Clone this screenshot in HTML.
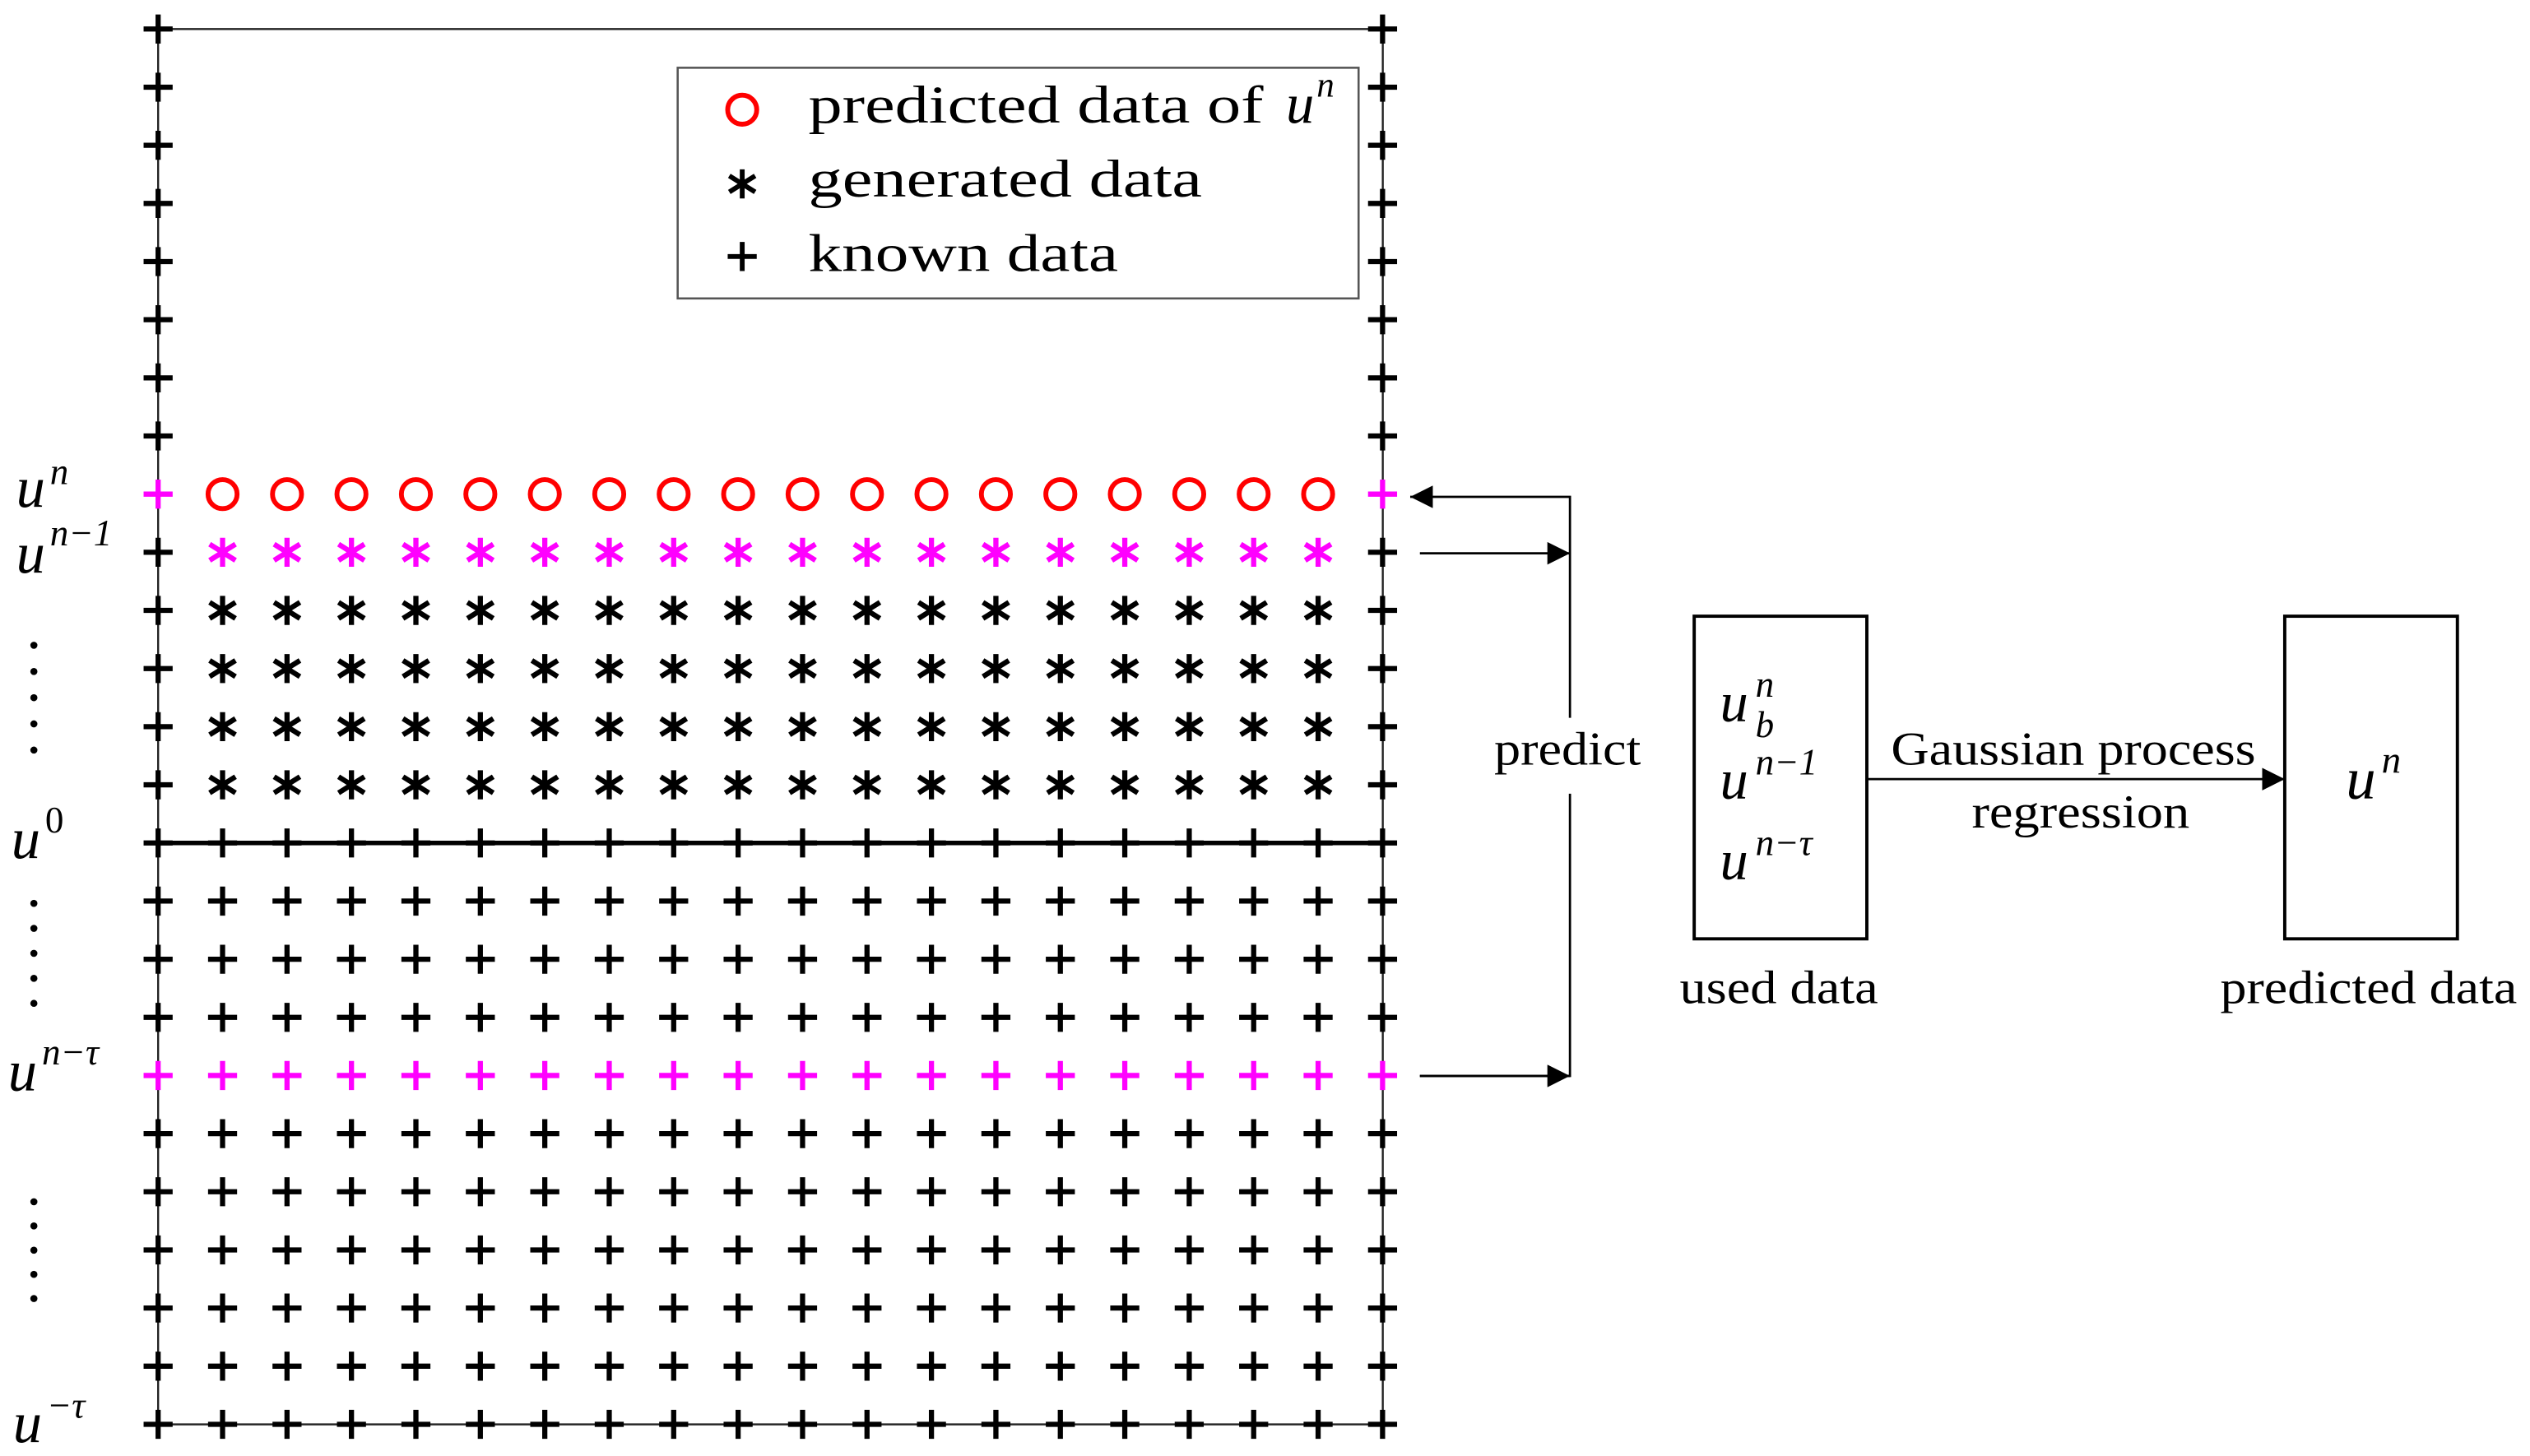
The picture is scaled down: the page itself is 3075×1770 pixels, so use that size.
<!DOCTYPE html>
<html><head><meta charset="utf-8"><style>
html,body{margin:0;padding:0;background:#fff;}
svg{display:block;}
text{font-family:"Liberation Serif",serif;fill:#000;}
.it{font-style:italic;}
</style></head><body>
<svg id="s" width="3075" height="1770" viewBox="0 0 1568 902.6" preserveAspectRatio="none" xmlns="http://www.w3.org/2000/svg">
<defs>
<marker id="ah" viewBox="0 0 10 10" refX="10" refY="5" markerWidth="14" markerHeight="14" markerUnits="userSpaceOnUse" orient="auto"><path d="M0,0 L10,5 L0,10 z" fill="#000"/></marker>
</defs>
<g id="grid"></g>
<rect x="420" y="42" width="422" height="143" fill="#fff" stroke="#555" stroke-width="1.3"/>
<circle cx="460" cy="68" r="9" fill="none" stroke="#f00" stroke-width="3"/>
<g stroke="#000" stroke-width="3">
<line x1="460" y1="105" x2="460" y2="123"/><line x1="452" y1="109" x2="468" y2="119"/><line x1="452" y1="119" x2="468" y2="109"/>
<line x1="451" y1="159" x2="469" y2="159"/><line x1="460" y1="150" x2="460" y2="168"/>
</g>
<text x="501" y="76" font-size="33" textLength="282" lengthAdjust="spacingAndGlyphs">predicted data of</text>
<text x="797" y="76" font-size="35" class="it">u</text><text x="816" y="60" font-size="22" class="it">n</text>
<text x="501" y="122" font-size="33" textLength="244" lengthAdjust="spacingAndGlyphs">generated data</text>
<text x="501" y="168" font-size="33" textLength="192" lengthAdjust="spacingAndGlyphs">known data</text>
<text x="10" y="314" font-size="36" class="it">u</text><text x="31" y="300" font-size="23" class="it">n</text>
<text x="10" y="355" font-size="36" class="it">u</text><text x="31" y="338" font-size="23" class="it">n−1</text>
<text x="7" y="532" font-size="36" class="it">u</text><text x="28" y="516" font-size="23">0</text>
<text x="5" y="676" font-size="36" class="it">u</text><text x="26" y="660" font-size="23" class="it">n−τ</text>
<text x="8" y="894" font-size="36" class="it">u</text><text x="29" y="879" font-size="23" class="it">−τ</text>
<g fill="#000" id="dots"></g>
<g stroke="#000" stroke-width="1.4" fill="none">
<polyline points="973,445 973,308 874,308" marker-end="url(#ah)"/>
<line x1="880" y1="343" x2="973" y2="343" marker-end="url(#ah)"/>
<polyline points="973,492 973,667 880,667" />
<line x1="880" y1="667" x2="973" y2="667" marker-end="url(#ah)"/>
<line x1="1157" y1="483" x2="1416" y2="483" marker-end="url(#ah)"/>
<rect x="1050" y="382" width="107" height="200" stroke-width="2"/>
<rect x="1416" y="382" width="107" height="200" stroke-width="2"/>
</g>
<text x="926" y="474" font-size="29" textLength="91" lengthAdjust="spacingAndGlyphs">predict</text>
<text x="1066" y="447" font-size="35" class="it">u</text><text x="1088" y="432" font-size="23" class="it">n</text><text x="1088" y="457" font-size="23" class="it">b</text>
<text x="1066" y="495" font-size="35" class="it">u</text><text x="1088" y="480" font-size="23" class="it">n−1</text>
<text x="1066" y="545" font-size="35" class="it">u</text><text x="1088" y="530" font-size="23" class="it">n−τ</text>
<text x="1172" y="474" font-size="29" textLength="226" lengthAdjust="spacingAndGlyphs">Gaussian process</text>
<text x="1222" y="513" font-size="29" textLength="135" lengthAdjust="spacingAndGlyphs">regression</text>
<text x="1454" y="495" font-size="37" class="it">u</text><text x="1476" y="479" font-size="24" class="it">n</text>
<text x="1041" y="622" font-size="29" textLength="123" lengthAdjust="spacingAndGlyphs">used data</text>
<text x="1376" y="622" font-size="29" textLength="184" lengthAdjust="spacingAndGlyphs">predicted data</text>
</svg>
<script>
var NS="http://www.w3.org/2000/svg",g=document.getElementById("grid");
function el(t,a){var e=document.createElementNS(NS,t);for(var k in a)e.setAttribute(k,a[k]);g.appendChild(e);return e;}
function Y(k){return 18+36.04*k;}
function X(i){return 98+39.94*i;}
el("line",{x1:98,y1:18,x2:857,y2:18,stroke:"#222","stroke-width":1.2});
el("line",{x1:98,y1:883,x2:857,y2:883,stroke:"#222","stroke-width":1.2});
el("line",{x1:98,y1:18,x2:98,y2:883,stroke:"#222","stroke-width":1.2});
el("line",{x1:857,y1:18,x2:857,y2:883,stroke:"#222","stroke-width":1.2});
el("line",{x1:98,y1:Y(14),x2:857,y2:Y(14),stroke:"#000","stroke-width":2.8});
function plus(x,y,c){el("path",{d:"M"+(x-9)+","+y+"h18M"+x+","+(y-9)+"v18",stroke:c,"stroke-width":3.2,fill:"none"});}
function star(x,y,c){el("path",{d:"M"+x+","+(y-9)+"v18M"+(x-8)+","+(y-5)+"l16,10M"+(x-8)+","+(y+5)+"l16,-10",stroke:c,"stroke-width":3.2,fill:"none"});}
function circ(x,y){el("circle",{cx:x,cy:y,r:9,fill:"none",stroke:"#f00","stroke-width":3});}
for(var k=0;k<25;k++){
 var y=Y(k);
 for(var i=0;i<20;i++){
  var x=X(i),edge=(i==0||i==19);
  if(k<8){ if(edge) plus(x,y,"#000"); }
  else if(k==8){ if(edge) plus(x,y,"#f0f"); else circ(x,y); }
  else if(k==9){ if(edge) plus(x,y,"#000"); else star(x,y,"#f0f"); }
  else if(k<14){ if(edge) plus(x,y,"#000"); else star(x,y,"#000"); }
  else if(k==18){ plus(x,y,"#f0f"); }
  else plus(x,y,"#000");
 }
}
var d=document.getElementById("dots");
[[400,465],[560,622],[745,805]].forEach(function(r){for(var j=0;j<5;j++){var c=document.createElementNS(NS,"circle");c.setAttribute("cx",21);c.setAttribute("cy",r[0]+j*(r[1]-r[0])/4);c.setAttribute("r",2.2);d.appendChild(c);}});
</script>
</body></html>
